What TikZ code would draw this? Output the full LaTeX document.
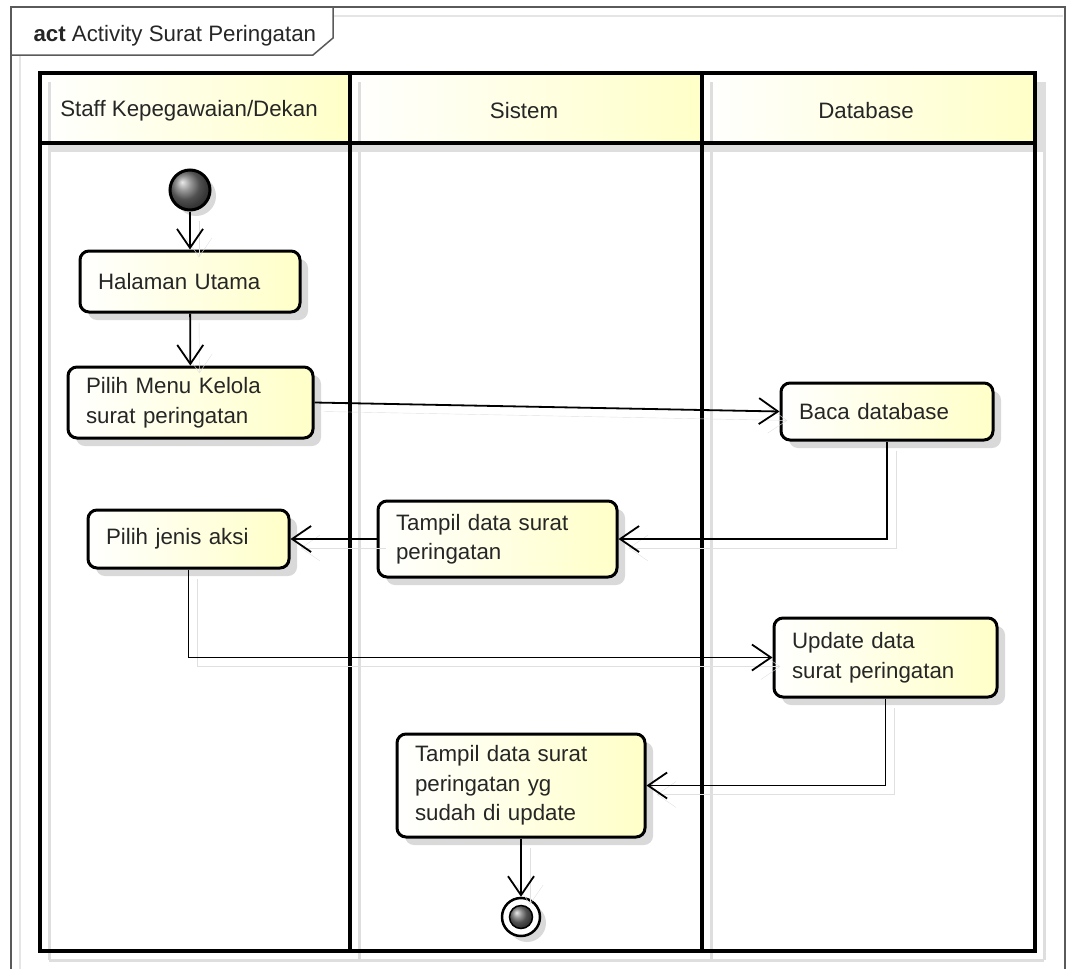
\documentclass[tikz,border=0pt]{standalone}
\usepackage{fontspec}
\setmainfont{Liberation Sans}
\usetikzlibrary{arrows.meta,positioning,shadows,calc}
\definecolor{actyellow}{RGB}{255,255,200}
\definecolor{framegray}{RGB}{90,90,90}

\begin{document}
\begin{tikzpicture}[x=1pt, y=-1pt,
    font=\fontsize{22.3}{29.5}\selectfont,
    act/.style={rectangle, rounded corners=9pt, draw, line width=3pt, text=black!85,
        left color=white, right color=actyellow, inner xsep=18pt, inner ysep=0pt, align=left,
        drop shadow={shadow xshift=8pt, shadow yshift=-8pt, fill=black!15, opacity=1}},
    flow/.style={draw, line width=1.8pt, -{Straight Barb[length=19pt, width=26pt]},
        preaction={draw=black!12, transform canvas={shift={(9pt,-9pt)}}}},
    lanehead/.style={left color=white, right color=actyellow},
    laneshadow/.style={draw=black!13, line width=3pt}]

    \useasboundingbox (0,0) rectangle (1067,969);

    % frame
    \draw[black!10, line width=1.5pt] (20,969) -- (20,55) (333,16) -- (1063,16);
    \draw[framegray, line width=1.5pt] (11,969) -- (11,7) -- (1065,7) -- (1065,969);
    \draw[framegray, line width=1.5pt] (11,55) -- (313,55) -- (333,38) -- (333,7);
    \node[anchor=base west, text=black!85] (title) at (30,41) {\textbf{act} Activity Surat Peringatan};

    % swimlanes
    \fill[black!13] (49,82) rectangle (1044,152);
    \foreach \xa/\xb in {40/350, 350/702, 702/1035}
        \shade[lanehead] (\xa,73) rectangle (\xb,143);
    \foreach \x in {49,359,711,1044}
        \draw[laneshadow] (\x,82) -- (\x,960);
    \draw[laneshadow] (49,960) -- (1044,960);
    \draw[line width=4pt] (40,73) rectangle (1035,951);
    \draw[line width=4pt] (40,143) -- (1035,143);
    \foreach \x in {350,702}
        \draw[line width=4pt] (\x,73) -- (\x,951);

    \node[text=black!85] (hStaff) at (189,111) {Staff Kepegawaian/Dekan};
    \node[text=black!85] (hSistem) at (524,111) {Sistem};
    \node[text=black!85] (hDb) at (866,111) {Database};

    % activities
    \node[circle, draw, line width=3pt, minimum size=40pt, inner sep=0pt, ball color=black!55,
        drop shadow={shadow xshift=6pt, shadow yshift=-6pt, fill=black!15, opacity=1}] (start) at (190,190) {};
    \node[act, text width=184pt, minimum height=61pt] (HU) at (190,281.5) {Halaman Utama};
    \node[act, text width=209pt, minimum height=71pt] (PM) at (190.5,402.5) {Pilih Menu Kelola\\surat peringatan};
    \node[act, text width=176pt, minimum height=57pt] (BD) at (887,411.5) {Baca database};
    \node[act, text width=203pt, minimum height=76pt] (TD) at (497.5,539) {Tampil data surat\\peringatan};
    \node[act, text width=165pt, minimum height=58pt] (PJ) at (188.5,539) {Pilih jenis aksi};
    \node[act, text width=187pt, minimum height=79pt] (UD) at (885.5,657.5) {Update data\\surat peringatan};
    \node[act, text width=212pt, minimum height=103pt] (TU) at (521,785.5) {Tampil data surat\\peringatan yg\\sudah di update};
    \node[circle, draw, line width=2.5pt, fill=white, minimum size=38pt, inner sep=0pt,
        drop shadow={shadow xshift=6pt, shadow yshift=-6pt, fill=black!15, opacity=1}] (end) at (521,917) {};
    \node[circle, draw, line width=1.5pt, minimum size=23pt, inner sep=0pt, ball color=black!55] (endDot) at (end) {};

    \draw[flow] (start) -- (HU);
    \draw[flow] (HU) -- (PM);
    \draw[flow] (PM.east) -- (BD.west);
    \draw[flow] (BD.south) |- (TD.east);
    \draw[flow] (TD.west) -- (PJ.east);
    \draw[flow] (PJ.south) |- (UD.west);
    \draw[flow] (UD.south) |- (TU.east);
    \draw[flow] (TU) -- (end);
\end{tikzpicture}
\end{document}
